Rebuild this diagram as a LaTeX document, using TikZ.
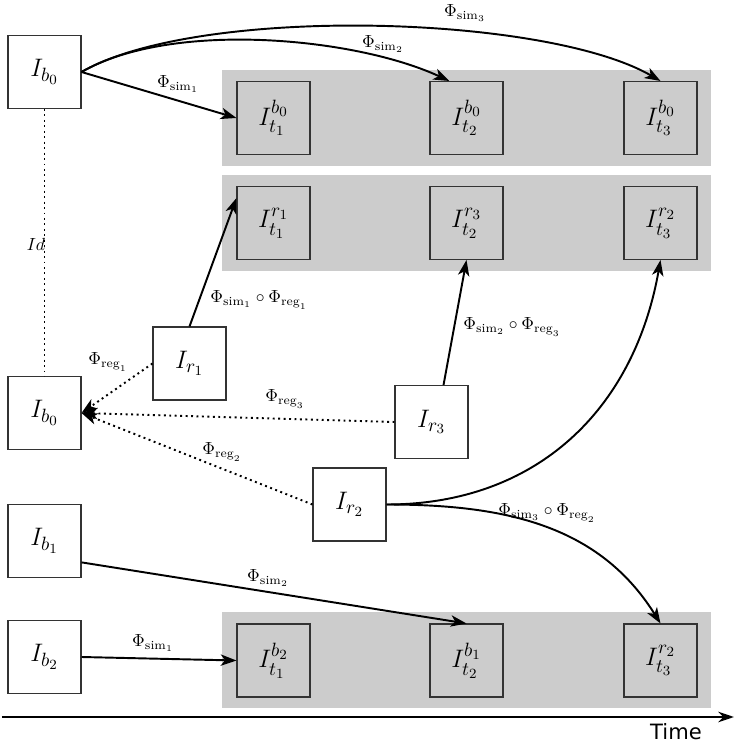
\documentclass[tikz,border=0pt]{standalone}
\usepackage{amsmath}
\usepackage{amssymb}
\usepackage{fontspec}
\usepackage{tikz}
\usetikzlibrary{arrows.meta}
\newfontfamily\timefont{DejaVu Sans}
\definecolor{bandgray}{HTML}{CCCCCC}

\begin{document}
\begin{tikzpicture}[
    imgbox/.style={draw=black!80,line width=0.6pt,fill=white,minimum size=1.46cm,inner sep=0pt,font=\fontsize{15.5}{18}\selectfont},
    tbox/.style={imgbox,fill=bandgray},
    band/.style={fill=bandgray,draw=none},
    simarr/.style={line width=1.1pt,-{Stealth[length=9pt,width=6.5pt,inset=2.5pt]}},
    regarr/.style={line width=1.1pt,dotted,-{Stealth[length=9pt,width=6.5pt,inset=2.5pt]}},
    lbl/.style={font=\normalsize,inner sep=1pt}
  ]
    \useasboundingbox (0,0) rectangle (14.74,14.88);
    % gray bands
    \fill[band] (4.44,11.56) rectangle (14.22,13.48);
    \fill[band] (4.44,9.46) rectangle (14.22,11.38);
    \fill[band] (4.44,0.72) rectangle (14.22,2.64);
    % base images
    \node[imgbox] (Ib0) at (0.89,13.44) {$I_{b_0}$};
    \node[imgbox] (Ib0m) at (0.89,6.62) {$I_{b_0}$};
    \node[imgbox] (Ib1) at (0.89,4.06) {$I_{b_1}$};
    \node[imgbox] (Ib2) at (0.89,1.74) {$I_{b_2}$};
    % registered images
    \node[imgbox] (Ir1) at (3.79,7.61) {$I_{r_1}$};
    \node[imgbox] (Ir3) at (8.63,6.44) {$I_{r_3}$};
    \node[imgbox] (Ir2) at (6.99,4.79) {$I_{r_2}$};
    % simulated images
    \node[tbox] (TaA) at (5.47,12.52) {$I_{t_1}^{b_0}$};
    \node[tbox] (TbA) at (9.33,12.52) {$I_{t_2}^{b_0}$};
    \node[tbox] (TcA) at (13.21,12.52) {$I_{t_3}^{b_0}$};
    \node[tbox] (TaB) at (5.47,10.42) {$I_{t_1}^{r_1}$};
    \node[tbox] (TbB) at (9.33,10.42) {$I_{t_2}^{r_3}$};
    \node[tbox] (TcB) at (13.21,10.42) {$I_{t_3}^{r_2}$};
    \node[tbox] (TaC) at (5.47,1.67) {$I_{t_1}^{b_2}$};
    \node[tbox] (TbC) at (9.33,1.67) {$I_{t_2}^{b_1}$};
    \node[tbox] (TcC) at (13.21,1.67) {$I_{t_3}^{r_2}$};
    % simulation arrows
    \draw[simarr] (Ib0.east) -- (TaA.west);
    \draw[simarr] (Ib0.east) to[out=30,in=155,looseness=0.72] (TbA.115);
    \draw[simarr] (Ib0.east) to[out=30,in=150,looseness=0.59] (TcA.north);
    \draw[simarr] (Ir1.north) -- (TaB.146);
    \draw[simarr] (Ir3.72) -- (TbB.south);
    \draw[simarr] (Ir2.east) to[out=0,in=-100,looseness=1.05] (TcB.south);
    \draw[simarr] (Ir2.east) to[out=0,in=122] (TcC.north);
    \draw[simarr] (Ib1.-30) -- (TbC.north);
    \draw[simarr] (Ib2.east) -- (TaC.west);
    % registration arrows
    \draw[line width=1.1pt,dotted] (Ib0.south) -- (Ib0m.north);
    \draw[regarr] (Ir1.west) -- (Ib0m.east);
    \draw[regarr] (Ir3.west) -- (Ib0m.east);
    \draw[regarr] (Ir2.west) -- (Ib0m.east);
    % labels
    \node[lbl] (lsimA) at (3.56,13.20) {$\Phi_{\mathrm{sim}_1}$};
    \node[lbl] (lsimB) at (7.66,14.00) {$\Phi_{\mathrm{sim}_2}$};
    \node[lbl] (lsimC) at (9.30,14.62) {$\Phi_{\mathrm{sim}_3}$};
    \node[lbl] (lid) at (0.72,10.00) {$Id$};
    \node[lbl] (lregA) at (2.16,7.64) {$\Phi_{\mathrm{reg}_1}$};
    \node[lbl] (lregC) at (5.70,6.90) {$\Phi_{\mathrm{reg}_3}$};
    \node[lbl] (lregB) at (4.44,5.84) {$\Phi_{\mathrm{reg}_2}$};
    \node[lbl] (lcompA) at (5.18,8.88) {$\Phi_{\mathrm{sim}_1}\circ\Phi_{\mathrm{reg}_1}$};
    \node[lbl] (lcompC) at (10.24,8.34) {$\Phi_{\mathrm{sim}_2}\circ\Phi_{\mathrm{reg}_3}$};
    \node[lbl] (lcompB) at (10.94,4.62) {$\Phi_{\mathrm{sim}_3}\circ\Phi_{\mathrm{reg}_2}$};
    \node[lbl] (lsimD) at (5.36,3.32) {$\Phi_{\mathrm{sim}_2}$};
    \node[lbl] (lsimE) at (3.06,2.02) {$\Phi_{\mathrm{sim}_1}$};
    % time axis
    \coordinate (t0) at (0.04,0.54);
    \coordinate (t1) at (14.68,0.54);
    \draw[line width=1pt,-{Stealth[length=9pt,width=6pt,inset=3pt]}] (t0) -- (t1);
    \node[font=\timefont\fontsize{12}{14}\selectfont,inner sep=0pt] (time) at (13.52,0.25) {Time};
  \end{tikzpicture}
\end{document}
